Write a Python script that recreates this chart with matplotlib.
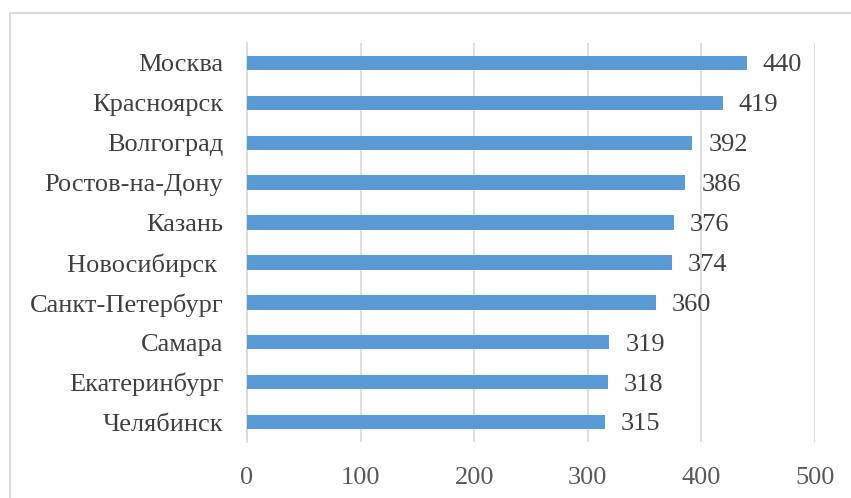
import matplotlib.pyplot as plt
from matplotlib.patches import Rectangle

cities = ['Москва', 'Красноярск', 'Волгоград', 'Ростов-на-Дону', 'Казань',
          'Новосибирск ', 'Санкт-Петербург', 'Самара', 'Екатеринбург', 'Челябинск']
values = [440, 419, 392, 386, 376, 374, 360, 319, 318, 315]
xticks = [0, 100, 200, 300, 400, 500]

plt.rcParams['font.family'] = ['Liberation Serif', 'DejaVu Serif']

fig = plt.figure(figsize=(8.51, 4.98), dpi=100)
ax = fig.add_axes([247/851, 1 - 442/498, (815 - 247)/851, (442 - 43)/498])

pos = list(range(len(cities)))
ax.barh(pos, values, height=0.36, color='#5b9bd5', zorder=3)
for p, v in zip(pos, values):
    ax.text(v + 14, p + 0.06, str(v), va='center', ha='left', fontsize=19, color='#404040')

ax.set_yticks(pos)
ax.set_yticklabels(cities, fontsize=19, color='#404040')
ax.set_ylim(len(cities) - 0.5, -0.5)
ax.set_xlim(0, 500)
ax.set_xticks(xticks)
ax.set_xticklabels([str(x) for x in xticks], fontsize=19, color='#595959')
ax.tick_params(axis='y', length=0, pad=17)
ax.tick_params(axis='x', length=0, pad=18)
ax.grid(axis='x', color='#d9d9d9', lw=1.2, zorder=0)
for s in ['top', 'right', 'bottom']:
    ax.spines[s].set_visible(False)
ax.spines['left'].set_color('#d9d9d9')
ax.spines['left'].set_linewidth(1.2)

fig.patches.append(Rectangle((10/851, -0.1), 1.0, 1 - 13/498 + 0.1,
                             transform=fig.transFigure, fill=False,
                             edgecolor='#d9d9d9', lw=1.5))

fig.savefig('out.png', dpi=100)
